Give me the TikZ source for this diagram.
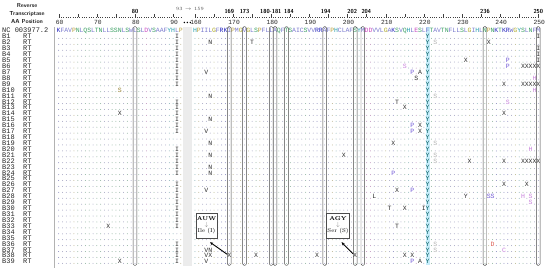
\documentclass[tikz,border=0pt]{standalone}
\usepackage{fontspec}
\newfontfamily\alnfont{Liberation Mono}
\usetikzlibrary{arrows.meta}

\definecolor{hyd}{RGB}{120,120,205}
\definecolor{bas}{RGB}{40,40,190}
\definecolor{aci}{RGB}{200,70,190}
\definecolor{pol}{RGB}{60,160,100}
\definecolor{gly}{RGB}{175,170,40}
\definecolor{pro}{RGB}{185,160,60}
\definecolor{aro}{RGB}{40,160,175}
\definecolor{mutpur}{RGB}{115,90,215}
\definecolor{mutlil}{RGB}{200,130,220}
\definecolor{mutred}{RGB}{220,90,80}
\colorlet{rA}{hyd}\colorlet{rC}{hyd}\colorlet{rF}{hyd}\colorlet{rI}{hyd}
\colorlet{rL}{hyd}\colorlet{rM}{hyd}\colorlet{rV}{hyd}\colorlet{rW}{hyd}
\colorlet{rK}{bas}\colorlet{rR}{bas}\colorlet{rD}{aci}\colorlet{rE}{aci}
\colorlet{rN}{pol}\colorlet{rQ}{pol}\colorlet{rS}{pol}\colorlet{rT}{pol}
\colorlet{rG}{gly}\colorlet{rP}{pro}\colorlet{rH}{aro}\colorlet{rY}{aro}

\tikzset{
  declare function={xa(\p)=135+(\p-80)*3.815; xb(\p)=229.3+(\p-169)*3.815; ry(\r)=31+5.92*\r;},
  res/.style={font=\alnfont\fontsize{6.5}{6.5}\selectfont, inner sep=0pt, anchor=base},
  mut/.style={res, fill=white, text=gray!35!black},
  lab/.style={font=\alnfont\fontsize{7}{7}\selectfont, inner sep=0pt, anchor=base west, text=gray!30!black},
  num/.style={font=\alnfont\fontsize{6.3}{6.3}\selectfont, inner sep=0pt, text=gray!30!black},
  hotlab/.style={font=\sffamily\bfseries\fontsize{5.8}{5.8}\selectfont, inner sep=0pt},
  head/.style={font=\sffamily\bfseries\fontsize{5.8}{5.8}\selectfont, inner sep=0pt, text=gray!25!black},
  hot/.style={draw=gray!55!black, line width=0.45pt, rounded corners=1.5pt},
  callout/.style={draw=gray!60!black, fill=white, align=center, font=\fontsize{5.6}{6}\selectfont,
    minimum width=21pt, minimum height=25pt, inner sep=1pt},
  pointer/.style={-{Stealth[length=3.2pt,width=2.8pt]}, line width=0.9pt}
}
\newcommand{\mutL}[4][gray!35!black]{\node[mut,text=#1] (m#2-#3) at ({xa(#3)},{ry(#2)+2}) {#4};}
\newcommand{\mutR}[4][gray!35!black]{\node[mut,text=#1] (m#2-#3) at ({xb(#3)},{ry(#2)+2}) {#4};}

\begin{document}
\begin{tikzpicture}[x=1pt, y=-1pt]
  \useasboundingbox (0,0) rectangle (550,270);

  \node[head] (h1) at (27,6) {Reverse};
  \node[head] (h2) at (27,14) {Transcriptase};
  \node[head] (h3) at (27,22) {AA Position};

  \fill[gray!15] (182.5,27) rectangle (192,266);
  \draw[gray!60] (54,27) -- (54,268);
  \fill[cyan!22] ({xb(221)-1.9},27) rectangle ({xb(221)+1.9},265);

  % ruler
  \draw[gray!50!black, line width=0.3pt, dotted] ({xa(60)},17) -- ({xa(92)},17);
  \draw[gray!50!black, line width=0.3pt, dotted] ({xb(160)},17) -- ({xb(250)},17);
  \foreach \p in {60,65,...,90} \draw[gray!50!black, line width=0.35pt] ({xa(\p)},17) -- ++(0,-3);
  \foreach \p in {160,165,...,250} \draw[gray!50!black, line width=0.35pt] ({xb(\p)},17) -- ++(0,-3);
  \foreach \n in {60,70,80,90} \node[num] (n\n) at ({xa(\n)+1},22.5) {\n};
  \foreach \n in {160,170,...,250} \node[num] (n\n) at ({xb(\n)+1},22.5) {\n};
  \foreach \k in {184.3,187.3,190.3} \fill (\k,22.5) circle (0.8pt);
  \node[font=\fontsize{4.8}{4.8}\selectfont, text=gray!60!black, inner sep=0pt] (skip) at (190,9) {93 $\rightarrow$ 159};

  \node[hotlab] (t80) at ({xa(80)},11.5) {80};
  \node[hotlab] (t169) at ({xb(169)},11.5) {169};
  \node[hotlab] (t173) at ({xb(173)},11.5) {173};
  \node[hotlab] (t180) at ({xb(180)-0.5},11.5) {180-181};
  \node[hotlab] (t184) at ({xb(184)+2.5},11.5) {184};
  \node[hotlab] (t194) at ({xb(194)+1},11.5) {194};
  \node[hotlab] (t202) at ({xb(202)-3},11.5) {202};
  \node[hotlab] (t204) at ({xb(204)+3.5},11.5) {204};
  \node[hotlab] (t236) at ({xb(236)},11.5) {236};
  \node[hotlab] (t250) at ({xb(250)},11.5) {250};

  % labels
  \node[lab] (nc) at (2,{ry(0)+2}) {NC 003977.2};
  \foreach \r in {1,...,39} {
    \node[lab] (lab\r) at (2,{ry(\r)+2}) {B\r};
    \node[lab] (rt\r) at (23,{ry(\r)+2}) {RT};
  }

  % reference and dots
  \foreach \c [count=\i from 60] in {K,F,A,V,P,N,L,Q,S,L,T,N,L,L,S,S,N,L,S,W,L,S,L,D,V,S,A,A,F,Y,H,L,P} {
    \node[res,text=r\c] (ref\i) at ({xa(\i)},{ry(0)+2}) {\c};
    \fill[r\c!50!gray!70!white] \foreach \r in {1,...,39} {({xa(\i)},{ry(\r)+1.5}) circle (0.5pt)};
  }
  \foreach \c [count=\i from 160] in {H,P,I,I,L,G,F,R,K,I,P,M,G,V,G,L,S,P,F,L,L,A,Q,F,T,S,A,I,C,S,
      V,V,R,R,A,F,P,H,C,L,A,F,S,Y,M,D,D,V,V,L,G,A,K,S,V,Q,H,L,E,S,L,F,T,A,V,T,N,F,L,L,
      S,L,G,I,H,L,N,P,N,K,T,K,R,W,G,Y,S,L,N,F,M} {
    \node[res,text=r\c] (ref\i) at ({xb(\i)},{ry(0)+2}) {\c};
    \ifnum\i=221 \else
      \fill[r\c!50!gray!70!white] \foreach \r in {1,...,39} {({xb(\i)},{ry(\r)+1.5}) circle (0.5pt)};
    \fi
  }

  % substitutions
  \foreach \r in {1,...,9,12,13,14,15,16,17,20,21,22,23,24,26,27,28,29,30,31,32,33,36,37,38,39} {\mutL{\r}{91}{I}}
  \mutL[pro!80!black]{10}{76}{S}
  \mutL{14}{76}{X} \mutL{33}{73}{X} \mutL{39}{76}{X}
  \foreach \r in {1,...,39} {\node[res,text=teal!70!black] (m\r-221) at ({xb(221)},{ry(\r)+2}) {Y};}
  \foreach \r in {2,11,15,19,21,23,24,37} {\mutR{\r}{164}{N}}
  \foreach \r in {7,17,27,37,38,39} {\mutR{\r}{163}{V}}
  \foreach \r in {2,11,19,21,22,36,37} {\mutR[gray!60]{\r}{223}{S}}
  \foreach \r in {1,3,4,5} {\mutR{\r}{250}{I}}
  \foreach \r in {6,9,22} {\foreach \p in {246,...,250} {\mutR{\r}{\p}{X}}}
  \mutR{2}{175}{T} \mutR{2}{237}{X}
  \mutR{5}{231}{X} \mutR[mutpur]{5}{242}{P}
  \mutR[mutlil]{6}{215}{S} \mutR[mutpur]{6}{242}{P}
  \mutR[mutpur]{7}{217}{P} \mutR{7}{219}{A}
  \mutR{8}{218}{S} \mutR[mutlil]{8}{249}{H}
  \mutR{9}{241}{X} \mutR[mutlil]{10}{249}{H}
  \mutR{12}{213}{T} \mutR[mutlil]{12}{242}{S}
  \mutR{13}{215}{X} \mutR{14}{241}{X}
  \mutR[mutpur]{16}{217}{P} \mutR{16}{219}{X}
  \mutR[mutpur]{17}{217}{P} \mutR{17}{219}{X}
  \mutR{19}{212}{X} \mutR[mutlil]{20}{248}{H}
  \mutR{21}{199}{X}
  \mutR{22}{232}{X} \mutR{22}{241}{X}
  \mutR[mutpur]{24}{212}{P}
  \mutR{26}{241}{X} \mutR{26}{247}{X}
  \mutR{27}{213}{X} \mutR[mutpur]{27}{217}{P}
  \mutR{28}{207}{L} \mutR{28}{231}{Y} \mutR[mutpur]{28}{237}{S} \mutR[mutpur]{28}{238}{S}
  \mutR[mutlil]{28}{246}{H} \mutR[mutlil]{28}{248}{S} \mutR[mutlil]{29}{248}{S}
  \mutR{30}{211}{T} \mutR{30}{215}{X} \mutR{30}{220}{I}
  \mutR{33}{213}{T}
  \mutR[mutred]{36}{238}{D} \mutR[mutlil]{37}{241}{C}
  \mutR{38}{164}{X}
  \foreach \p in {169,176,192,202,215,217} {\mutR{38}{\p}{X}}
  \mutR[mutpur]{39}{217}{P} \mutR{39}{219}{A}

  % resistance positions
  \draw[hot] ({xa(80)-1.9},26.5) rectangle ({xa(80)+1.9},265.5);
  \foreach \p in {169,173,180,181,184,194,202,204,236,250}
    \draw[hot] ({xb(\p)-1.85},26.5) rectangle ({xb(\p)+1.85},265.5);

  \node[callout] (ile) at (206.5,225.5) {\textbf{AUW}\\{\color{gray}$\downarrow$}\\Ile (I)};
  \node[callout] (ser) at (338,225.5) {\textbf{AGY}\\{\color{gray}$\downarrow$}\\Ser (S)};
  \draw[pointer] (m38-169) -- ([xshift=3.5pt,yshift=-4pt]ile.south);
  \draw[pointer] (m38-202) -- ([xshift=3.5pt,yshift=-4pt]ser.south);
\end{tikzpicture}
\end{document}
